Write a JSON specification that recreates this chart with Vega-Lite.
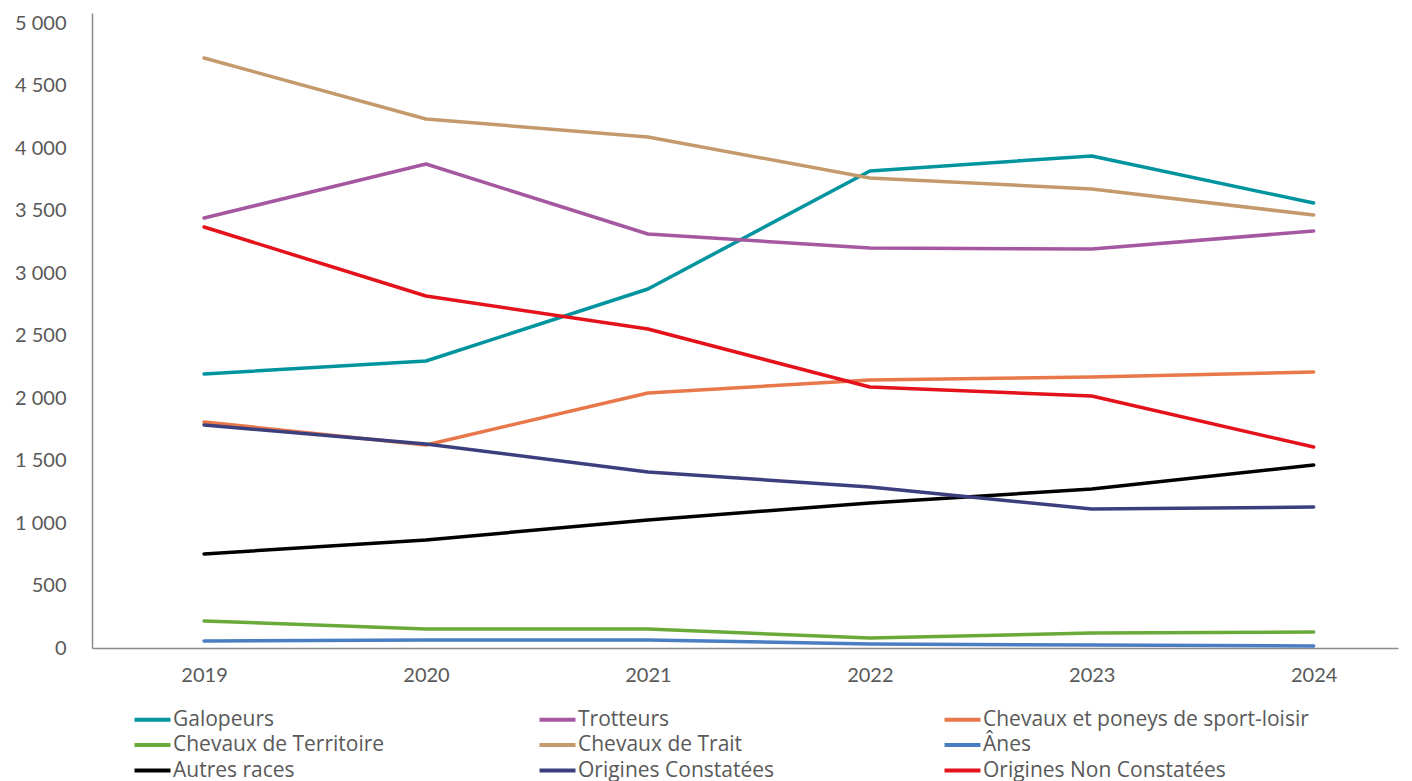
{
  "$schema": "https://vega.github.io/schema/vega-lite/v6.json",
  "width": 1306,
  "height": 635,
  "autosize": {"type": "none"},
  "padding": {"left": 92, "top": 13, "right": 14, "bottom": 133},
  "config": {
    "view": {"stroke": null},
    "font": "Lato"
  },
  "data": {
    "values": [
      {"serie": "Galopeurs", "annee": 2019, "valeur": 2192},
      {"serie": "Galopeurs", "annee": 2020, "valeur": 2296},
      {"serie": "Galopeurs", "annee": 2021, "valeur": 2872},
      {"serie": "Galopeurs", "annee": 2022, "valeur": 3816},
      {"serie": "Galopeurs", "annee": 2023, "valeur": 3936},
      {"serie": "Galopeurs", "annee": 2024, "valeur": 3560},
      {"serie": "Trotteurs", "annee": 2019, "valeur": 3440},
      {"serie": "Trotteurs", "annee": 2020, "valeur": 3872},
      {"serie": "Trotteurs", "annee": 2021, "valeur": 3312},
      {"serie": "Trotteurs", "annee": 2022, "valeur": 3200},
      {"serie": "Trotteurs", "annee": 2023, "valeur": 3192},
      {"serie": "Trotteurs", "annee": 2024, "valeur": 3336},
      {"serie": "Chevaux et poneys de sport-loisir", "annee": 2019, "valeur": 1808},
      {"serie": "Chevaux et poneys de sport-loisir", "annee": 2020, "valeur": 1624},
      {"serie": "Chevaux et poneys de sport-loisir", "annee": 2021, "valeur": 2040},
      {"serie": "Chevaux et poneys de sport-loisir", "annee": 2022, "valeur": 2144},
      {"serie": "Chevaux et poneys de sport-loisir", "annee": 2023, "valeur": 2168},
      {"serie": "Chevaux et poneys de sport-loisir", "annee": 2024, "valeur": 2208},
      {"serie": "Chevaux de Territoire", "annee": 2019, "valeur": 216},
      {"serie": "Chevaux de Territoire", "annee": 2020, "valeur": 152},
      {"serie": "Chevaux de Territoire", "annee": 2021, "valeur": 152},
      {"serie": "Chevaux de Territoire", "annee": 2022, "valeur": 80},
      {"serie": "Chevaux de Territoire", "annee": 2023, "valeur": 120},
      {"serie": "Chevaux de Territoire", "annee": 2024, "valeur": 128},
      {"serie": "Chevaux de Trait", "annee": 2019, "valeur": 4720},
      {"serie": "Chevaux de Trait", "annee": 2020, "valeur": 4232},
      {"serie": "Chevaux de Trait", "annee": 2021, "valeur": 4088},
      {"serie": "Chevaux de Trait", "annee": 2022, "valeur": 3760},
      {"serie": "Chevaux de Trait", "annee": 2023, "valeur": 3672},
      {"serie": "Chevaux de Trait", "annee": 2024, "valeur": 3464},
      {"serie": "Ânes", "annee": 2019, "valeur": 56},
      {"serie": "Ânes", "annee": 2020, "valeur": 64},
      {"serie": "Ânes", "annee": 2021, "valeur": 64},
      {"serie": "Ânes", "annee": 2022, "valeur": 32},
      {"serie": "Ânes", "annee": 2023, "valeur": 24},
      {"serie": "Ânes", "annee": 2024, "valeur": 16},
      {"serie": "Autres races", "annee": 2019, "valeur": 752},
      {"serie": "Autres races", "annee": 2020, "valeur": 864},
      {"serie": "Autres races", "annee": 2021, "valeur": 1024},
      {"serie": "Autres races", "annee": 2022, "valeur": 1160},
      {"serie": "Autres races", "annee": 2023, "valeur": 1272},
      {"serie": "Autres races", "annee": 2024, "valeur": 1464},
      {"serie": "Origines Constatées", "annee": 2019, "valeur": 1784},
      {"serie": "Origines Constatées", "annee": 2020, "valeur": 1632},
      {"serie": "Origines Constatées", "annee": 2021, "valeur": 1408},
      {"serie": "Origines Constatées", "annee": 2022, "valeur": 1288},
      {"serie": "Origines Constatées", "annee": 2023, "valeur": 1112},
      {"serie": "Origines Constatées", "annee": 2024, "valeur": 1128},
      {"serie": "Origines Non Constatées", "annee": 2019, "valeur": 3368},
      {"serie": "Origines Non Constatées", "annee": 2020, "valeur": 2816},
      {"serie": "Origines Non Constatées", "annee": 2021, "valeur": 2552},
      {"serie": "Origines Non Constatées", "annee": 2022, "valeur": 2088},
      {"serie": "Origines Non Constatées", "annee": 2023, "valeur": 2016},
      {"serie": "Origines Non Constatées", "annee": 2024, "valeur": 1608}
    ]
  },
  "mark": {"type": "line", "strokeWidth": 3.5, "strokeCap": "round", "strokeJoin": "round"},
  "encoding": {
    "x": {
      "field": "annee",
      "type": "quantitative",
      "scale": {"domain": [2018.495, 2024.38], "nice": false, "zero": false},
      "axis": {
        "title": null,
        "values": [2019, 2020, 2021, 2022, 2023, 2024],
        "format": "d",
        "grid": false,
        "ticks": false,
        "labelPadding": 17,
        "labelFontSize": 20,
        "labelColor": "#595959",
        "domainColor": "#8c8c8c",
        "domainWidth": 1.5
      }
    },
    "y": {
      "field": "valeur",
      "type": "quantitative",
      "scale": {"domain": [0, 5080], "nice": false},
      "axis": {
        "title": null,
        "values": [0, 500, 1000, 1500, 2000, 2500, 3000, 3500, 4000, 4500, 5000],
        "labelExpr": "replace(format(datum.value, ',d'), ',', ' ')",
        "grid": false,
        "ticks": false,
        "labelPadding": 26,
        "labelFontSize": 20,
        "labelColor": "#595959",
        "domainColor": "#8c8c8c",
        "domainWidth": 1.5
      }
    },
    "color": {
      "field": "serie",
      "type": "nominal",
      "scale": {
        "domain": ["Galopeurs", "Trotteurs", "Chevaux et poneys de sport-loisir", "Chevaux de Territoire", "Chevaux de Trait", "Ânes", "Autres races", "Origines Constatées", "Origines Non Constatées"],
        "range": ["#00949f", "#a558a0", "#e8774a", "#6aaa3a", "#c49a6c", "#4a7ec2", "#000000", "#3c3f7e", "#e3121b"]
      },
      "legend": {
        "title": null,
        "orient": "none",
        "direction": "horizontal",
        "legendX": 38,
        "legendY": 696,
        "padding": 0,
        "columns": 3,
        "gridAlign": "all",
        "columnPadding": 32,
        "rowPadding": 3.5,
        "symbolType": "M-1,0H5",
        "symbolSize": 144,
        "symbolStrokeWidth": 4,
        "labelOffset": 22,
        "labelFont": "Open Sans",
        "labelFontSize": 21,
        "labelColor": "#595959",
        "labelLimit": 500
      }
    }
  }
}
